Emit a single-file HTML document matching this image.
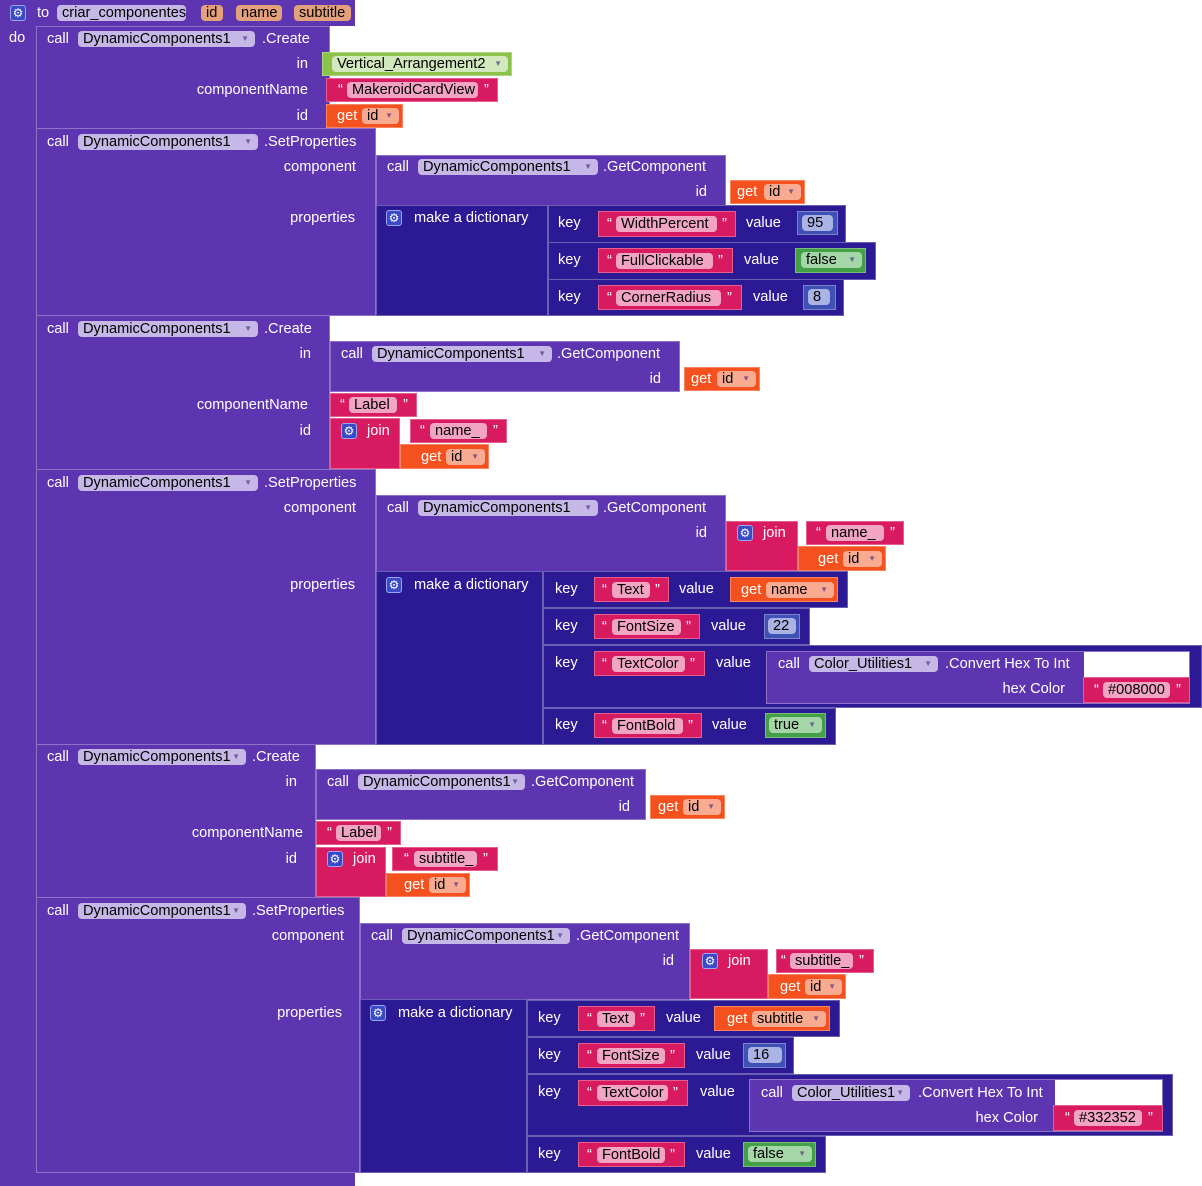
<!DOCTYPE html>
<html><head><meta charset="utf-8">
<style>
html,body{margin:0;padding:0;background:#fff;}
#c{position:relative;width:1202px;height:1186px;overflow:hidden;font-family:"Liberation Sans",sans-serif;font-size:14.6px;}
.b{position:absolute;box-sizing:border-box;border:1px solid rgba(255,255,255,0.3);}
.t{position:absolute;height:16px;line-height:16px;color:#fff;white-space:nowrap;}
.p{position:absolute;height:16px;line-height:16px;border-radius:4px;color:#000;box-sizing:border-box;padding-left:5px;white-space:nowrap;}
.p i{font-style:normal;font-size:8px;position:absolute;right:6px;top:0;color:rgba(60,30,120,0.6)}
.g{position:absolute;width:16px;height:16px;box-sizing:border-box;border-radius:3px;background:#3949c8;border:1px solid #9aa6f0;color:#fff;font-size:12px;line-height:14px;text-align:center;}
</style></head><body><div id="c"></div>
<script>
var c=document.getElementById('c'),h='';
var P='#5e35b1',D='#2c1a94',PK='#d81b60',OR='#f4511e',GR='#8bc34a',LG='#43a047',NB='#3f51b5';
var PP='#c6b8e6',PPK='#f2a5c2',POR='#f9ab92',PGR='#d2e8bd',PLG='#a5d6a7',PNB='#aab3e3',PAR='#e3a07a';
function B(x,y,x2,y2,col,nb){h+='<div class="b" style="left:'+x+'px;top:'+y+'px;width:'+(x2-x)+'px;height:'+(y2-y)+'px;background:'+col+(nb?';border:none':'')+'"></div>';}
function W(x,y,x2,y2){h+='<div style="position:absolute;left:'+x+'px;top:'+y+'px;width:'+(x2-x)+'px;height:'+(y2-y)+'px;background:#fff"></div>';}
function T(x,y,s,col){h+='<div class="t" style="left:'+x+'px;top:'+(y-8)+'px;'+(col?'color:'+col:'')+'">'+s+'</div>';}
function R(xr,y,s){h+='<div class="t" style="left:'+(xr-1000)+'px;width:1000px;text-align:right;top:'+(y-8)+'px">'+s+'</div>';}
function Pl(x,x2,y,s,bg,ar){h+='<div class="p" style="left:'+x+'px;top:'+(y-8)+'px;width:'+(x2-x)+'px;background:'+bg+'">'+s+(ar?'<i>▼</i>':'')+'</div>';}
function G(x,y){h+='<div class="g" style="left:'+x+'px;top:'+(y-8)+'px">⚙</div>';}
function S(x,x2,y1,y2,s,px,pe,q1,q2){B(x,y1,x2,y2,PK);var y=(y1+y2)/2;T(q1,y,'“');Pl(px,pe,y,s,PPK);T(q2,y,'”');}
function GET(x,x2,y1,y2,gx,px,pe,v){B(x,y1,x2,y2,OR);var y=(y1+y2)/2;T(gx,y,'get');Pl(px,pe,y,v||'id',POR,1);}
function DC(x,y,pe){T(x,y,'call');Pl(x+31,pe,y,'DynamicComponents1',PP,1);}

B(0,0,355,26,P,1);B(0,24,37,1186,P,1);B(0,1172,355,1186,P,1);
G(10,13);T(37,13,'to');Pl(57,186,13,'criar_componentes',PP);
Pl(201,223,13,'id',PAR);Pl(236,282,13,'name',PAR);Pl(294,351,13,'subtitle',PAR);
T(9,38,'do');

B(36,26,330,129,P);DC(47,39,255);T(262,39,'.Create');
R(308,64,'in');R(308,90,'componentName');R(308,116,'id');
B(322,52,512,76,GR);Pl(332,508,64,'Vertical_Arrangement2',PGR,1);
S(326,498,78,102,'MakeroidCardView',347,478,338,484);
GET(326,403,104,128,337,362,399);

B(36,128,376,316,P);DC(47,142,258);T(264,142,'.SetProperties');
R(356,167,'component');R(355,218,'properties');
B(376,155,726,206,P);DC(387,167,598);T(603,167,'.GetComponent');R(707,192,'id');
GET(730,805,180,204,737,764,801);
B(376,205,548,316,D);G(386,218);T(414,218,'make a dictionary');
B(548,205,846,243,D);T(558,223,'key');S(598,736,211,237,'WidthPercent',616,717,607,722);T(746,223,'value');B(797,211,838,235,NB);Pl(802,833,223,'95',PNB);
B(548,242,876,280,D);T(558,260,'key');S(598,733,248,273,'FullClickable',616,713,607,718);T(744,260,'value');B(795,248,866,273,LG);Pl(801,862,260,'false',PLG,1);
B(548,279,844,316,D);T(558,297,'key');S(598,742,285,310,'CornerRadius',616,721,607,727);T(753,297,'value');B(803,285,836,310,NB);Pl(808,830,297,'8',PNB);

B(36,315,330,470,P);DC(47,329,258);T(264,329,'.Create');
R(311,354,'in');R(308,405,'componentName');R(311,431,'id');
B(330,341,680,392,P);DC(341,354,552);T(557,354,'.GetComponent');R(661,379,'id');
GET(684,760,367,391,691,717,756);
S(330,417,393,417,'Label',349,397,340,403);
B(330,418,400,469,PK);G(341,431);T(367,431,'join');
S(410,507,419,443,'name_',430,487,420,493);
GET(400,489,444,469,421,446,485);

B(36,469,376,745,P);DC(47,483,258);T(264,483,'.SetProperties');
R(356,508,'component');R(355,585,'properties');
B(376,495,726,572,P);DC(387,508,598);T(603,508,'.GetComponent');R(707,533,'id');
B(726,521,798,571,PK);G(737,533);T(763,533,'join');
S(806,904,521,545,'name_',826,884,816,890);
GET(798,886,546,571,818,843,882);
B(376,571,543,745,D);G(386,585);T(414,585,'make a dictionary');
B(543,571,848,608,D);T(555,589,'key');S(594,669,577,602,'Text',612,650,602,655);T(679,589,'value');GET(730,838,577,602,741,766,834,'name');
B(543,608,810,645,D);T(555,626,'key');S(594,700,614,639,'FontSize',612,681,602,686);T(711,626,'value');B(764,614,800,639,NB);Pl(768,796,626,'22',PNB);
B(543,645,1202,708,D);T(555,663,'key');S(594,705,651,676,'TextColor',612,685,602,690);T(716,663,'value');
B(766,651,1190,704,P);W(1084,652,1189,677);
T(778,664,'call');Pl(809,938,664,'Color_Utilities1',PP,1);T(945,664,'.Convert Hex To Int');R(1065,689,'hex Color');
S(1083,1190,677,703,'#008000',1103,1170,1094,1176);
B(543,708,836,745,D);T(555,725,'key');S(594,702,713,738,'FontBold',612,683,602,688);T(712,725,'value');B(765,713,826,738,LG);Pl(769,822,725,'true',PLG,1);

B(36,744,316,898,P);DC(47,757,246);T(252,757,'.Create');
R(297,782,'in');R(303,833,'componentName');R(297,859,'id');
B(316,769,646,820,P);DC(327,782,525);T(531,782,'.GetComponent');R(630,807,'id');
GET(650,725,795,819,658,683,721);
S(316,401,821,845,'Label',336,381,327,387);
B(316,847,386,897,PK);G(327,859);T(353,859,'join');
S(392,498,847,871,'subtitle_',414,477,404,483);
GET(386,470,873,897,404,429,466);

B(36,897,360,1173,P);DC(47,911,246);T(252,911,'.SetProperties');
R(344,936,'component');R(342,1013,'properties');
B(360,923,690,1000,P);DC(371,936,570);T(576,936,'.GetComponent');R(674,961,'id');
B(690,949,768,999,PK);G(702,961);T(728,961,'join');
S(776,874,949,973,'subtitle_',790,853,781,859);
GET(768,846,974,999,780,805,842);
B(360,999,527,1173,D);G(370,1013);T(398,1013,'make a dictionary');
B(527,1000,840,1037,D);T(538,1018,'key');S(578,655,1006,1031,'Text',597,635,587,640);T(666,1018,'value');GET(714,830,1006,1031,727,752,826,'subtitle');
B(527,1037,794,1074,D);T(538,1055,'key');S(578,685,1043,1068,'FontSize',597,665,587,670);T(696,1055,'value');B(743,1043,786,1068,NB);Pl(748,782,1055,'16',PNB);
B(527,1074,1173,1136,D);T(538,1092,'key');S(578,688,1080,1106,'TextColor',597,668,587,673);T(700,1092,'value');
B(749,1079,1163,1132,P);W(1055,1080,1162,1105);
T(761,1093,'call');Pl(792,910,1093,'Color_Utilities1',PP,1);T(918,1093,'.Convert Hex To Int');R(1038,1118,'hex Color');
S(1053,1163,1105,1131,'#332352',1074,1142,1065,1148);
B(527,1136,826,1173,D);T(538,1154,'key');S(578,685,1142,1167,'FontBold',597,665,587,670);T(696,1154,'value');B(743,1142,816,1167,LG);Pl(748,812,1154,'false',PLG,1);

c.innerHTML=h;
</script>
</body></html>
